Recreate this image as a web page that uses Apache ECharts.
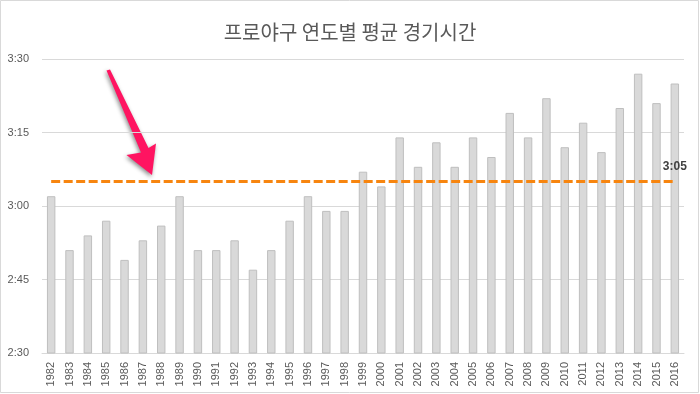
<!DOCTYPE html>
<html><head><meta charset="utf-8">
<script src="https://cdn.jsdelivr.net/npm/echarts@6/dist/echarts.min.js"></script>
<style>html,body{margin:0;padding:0;background:#fff}#c{width:700px;height:394px}</style>
</head><body><div id="c"></div>
<script>
const years = ['1982','1983','1984','1985','1986','1987','1988','1989','1990','1991','1992','1993','1994','1995','1996','1997','1998','1999','2000','2001','2002','2003','2004','2005','2006','2007','2008','2009','2010','2011','2012','2013','2014','2015','2016'];
// game time in minutes (e.g. 182 = 3:02)
const gameMinutes = [182,171,174,177,169,173,176,182,171,171,173,167,171,177,182,179,179,187,184,194,188,193,188,194,190,199,194,202,192,197,191,200,207,201,205];
const averageMinutes = 185;
const yTicks = ['2:30','2:45','3:00','3:15','3:30'];
const titleText = '프로야구 연도별 평균 경기시간';

function fmt(m){ const h = Math.floor(m/60), mm = Math.round(m%60); return h + ':' + (mm<10?'0':'') + mm; }
function parseT(s){ const p = s.split(':'); return +p[0]*60 + +p[1]; }

const chart = echarts.init(document.getElementById('c'), null, {renderer:'canvas'});
chart.setOption({
  animation:false,
  backgroundColor:'#fff',
  title:{text:titleText,left:'center',top:17,textStyle:{fontFamily:'Noto Sans CJK KR',fontSize:20,fontWeight:'normal',color:'#595959'}},
  grid:{left:42,right:16,top:59,bottom:41,containLabel:false},
  xAxis:{type:'category',data:years,
    axisLine:{lineStyle:{color:'#d9d9d9'}},axisTick:{show:false},
    axisLabel:{rotate:90,interval:0,fontSize:11,color:'#595959',fontFamily:'Liberation Sans',margin:9}},
  yAxis:{type:'value',min:parseT(yTicks[0]),max:parseT(yTicks[yTicks.length-1]),interval:15,
    axisLine:{show:false},axisTick:{show:false},
    splitLine:{lineStyle:{color:'#d9d9d9'}},
    axisLabel:{formatter:fmt,fontSize:11,color:'#595959',fontFamily:'Liberation Sans',margin:13}},
  series:[{type:'bar',data:gameMinutes,barWidth:'46%',
    itemStyle:{color:'#d9d9d9',borderColor:'#bfbfbf',borderWidth:1},
    markLine:{symbol:'none',silent:true,
      lineStyle:{color:'#F7850F',width:3,type:[9,3.5]},
      label:{show:false},
      data:[[{coord:[years[0],averageMinutes]},{coord:[years[years.length-1],averageMinutes]}]]},
    markPoint:{symbol:'circle',symbolSize:0,silent:true,
      label:{show:true,position:'top',distance:9,formatter:()=>fmt(averageMinutes),fontWeight:'bold',fontSize:12,color:'#404040',fontFamily:'Liberation Sans'},
      data:[{coord:[years[years.length-1],averageMinutes]}]}
  }],
  graphic:[
    {type:'rect',shape:{x:0.5,y:0.5,width:698,height:392},style:{fill:'none',stroke:'#d9d9d9',lineWidth:1},silent:true},
    {type:'polygon',shape:{points:[[106.5,70.5],[110,69.5],[148.5,148],[156,143.5],[152,175],[126.5,155],[141,152.5]]},
      style:{fill:'#FF1461',shadowBlur:4,shadowColor:'rgba(0,0,0,0.45)',shadowOffsetX:-1,shadowOffsetY:2},silent:true}
  ]
});
</script></body></html>
